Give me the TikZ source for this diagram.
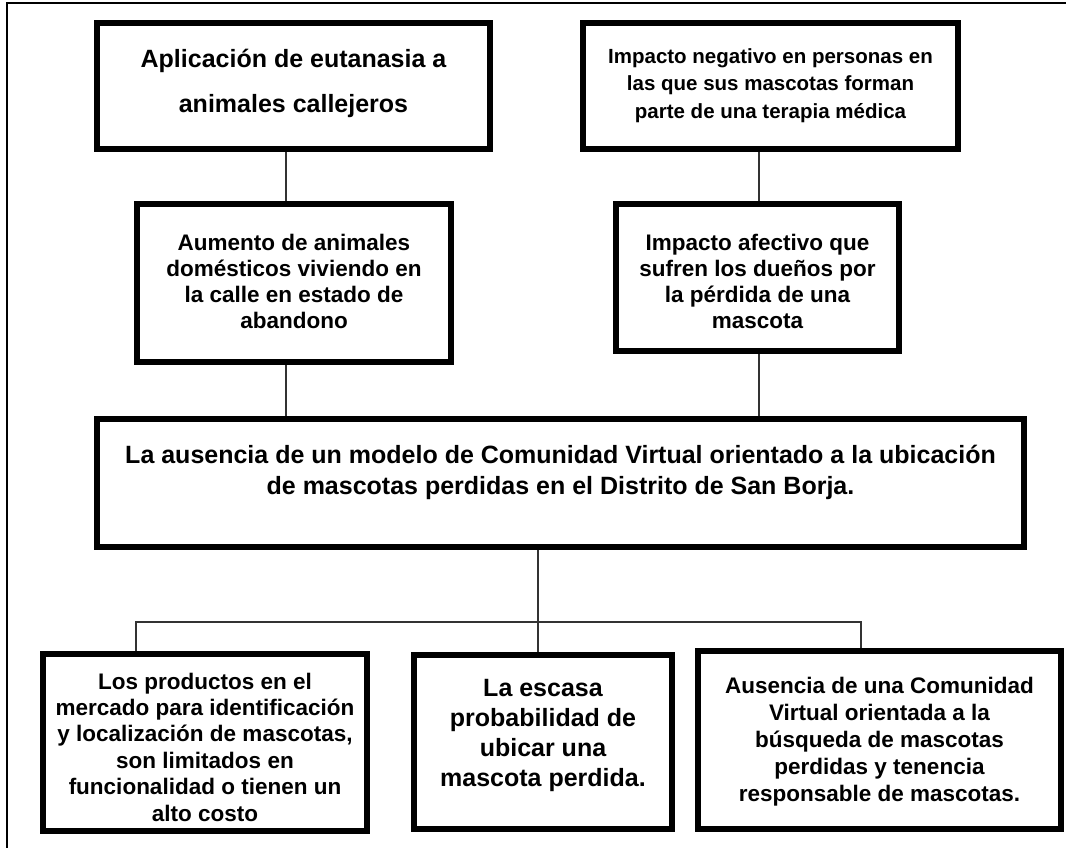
\documentclass[tikz,border=0pt]{standalone}
\usepackage{fontspec}
\setmainfont{Liberation Sans}
\tikzset{
  box/.style={draw=black, line width=6pt, fill=white, rectangle, inner sep=0pt},
  txt/.style={align=center, inner sep=0pt, text=black},
  conn/.style={draw=black!80, line width=1.4pt},
  frame/.style={draw=black, line width=1.5pt}
}
\newcommand{\fs}[2]{\bfseries\fontsize{#1}{#2}\selectfont}
\begin{document}
\begin{tikzpicture}[x=1pt,y=-1pt]
\useasboundingbox (0,0) rectangle (1066,848);
\draw[frame] (7,3) rectangle (1090,870);

% column coordinates of connectors
\coordinate (xL) at (286,0);
\coordinate (xR) at (759,0);
\coordinate (xM) at (538,0);
\coordinate (xF) at (136,0);
\coordinate (xH) at (861,0);
\coordinate (bar) at (0,622);

% connectors (drawn first, boxes cover ends)
\node[box, minimum width=393pt, minimum height=126pt,
  label={[txt, font=\fs{25}{45}, yshift=2.5pt]center:{Aplicación de eutanasia a\\animales callejeros}}]
  (A) at (293.5,86) {};
\node[box, minimum width=375pt, minimum height=126pt,
  label={[txt, font=\fs{20.5}{27.5}, yshift=0.5pt]center:{Impacto negativo en personas en\\las que sus mascotas forman\\parte de una terapia médica}}]
  (B) at (770.5,86) {};
\node[box, minimum width=314pt, minimum height=158pt,
  label={[txt, font=\fs{22.5}{26}, yshift=2pt]center:{Aumento de animales\\domésticos viviendo en\\la calle en estado de\\abandono}}]
  (C) at (294,283) {};
\node[box, minimum width=283pt, minimum height=147pt,
  label={[txt, font=\fs{22.5}{26}, yshift=-3.5pt]center:{Impacto afectivo que\\sufren los dueños por\\la pérdida de una\\mascota}}]
  (D) at (757.5,277.5) {};
\node[box, minimum width=927pt, minimum height=128pt,
  label={[txt, font=\fs{25}{31}, yshift=10.5pt]center:{La ausencia de un modelo de Comunidad Virtual orientado a la ubicación\\de mascotas perdidas en el Distrito de San Borja.}}]
  (E) at (560.5,483) {};
\node[box, minimum width=324pt, minimum height=177pt,
  label={[txt, font=\fs{22.5}{26.4}, yshift=-4.5pt]center:{Los productos en el\\mercado para identificación\\y localización de mascotas,\\son limitados en\\funcionalidad o tienen un\\alto costo}}]
  (F) at (205,742.5) {};
\node[box, minimum width=258pt, minimum height=174pt,
  label={[txt, font=\fs{25}{30}, yshift=7pt]center:{La escasa\\probabilidad de\\ubicar una\\mascota perdida.}}]
  (G) at (543,742) {};
\node[box, minimum width=363pt, minimum height=178pt,
  label={[txt, font=\fs{22.5}{27}, yshift=-2pt]center:{Ausencia de una Comunidad\\Virtual orientada a la\\búsqueda de mascotas\\perdidas y tenencia\\responsable de mascotas.}}]
  (H) at (879.5,740) {};

\draw[conn] (A.south -| xL) -- (C.north -| xL);
\draw[conn] (B.south -| xR) -- (D.north -| xR);
\draw[conn] (C.south -| xL) -- (E.north -| xL);
\draw[conn] (D.south -| xR) -- (E.north -| xR);
\draw[conn] (E.south -| xM) -- (G.north -| xM);
\draw[conn] (F.north -| xF) -- (xF |- bar) -- (xH |- bar) -- (H.north -| xH);
\end{tikzpicture}
\end{document}
